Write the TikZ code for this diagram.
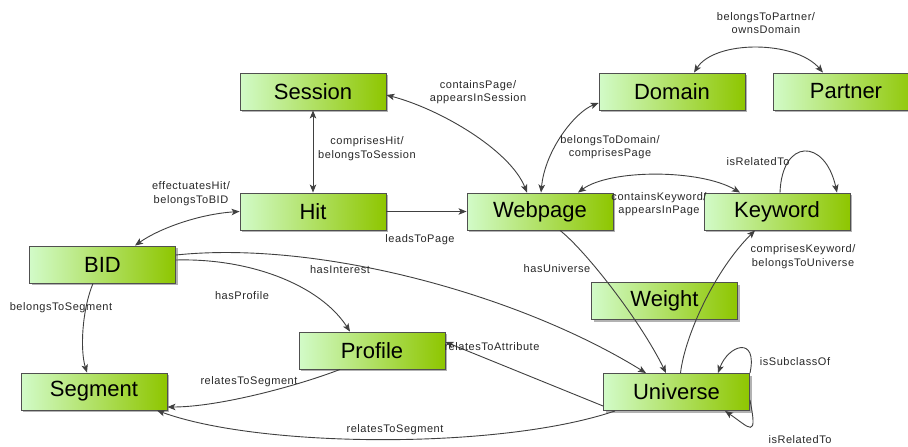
\documentclass[tikz,border=0pt]{standalone}
\usepackage{fontspec}
\setmainfont{Liberation Sans}
\newfontfamily\lblfont[LetterSpace=5]{Liberation Sans}
\usetikzlibrary{arrows.meta,shadows}
\definecolor{boxL}{RGB}{210,251,200}
\definecolor{boxR}{RGB}{142,198,0}
\definecolor{edgeC}{RGB}{64,64,64}
\definecolor{txtC}{RGB}{40,40,40}
\definecolor{bordC}{RGB}{80,80,80}
\tikzset{
  cls/.style={draw=bordC, line width=0.9pt, minimum width=146pt, minimum height=37pt,
    inner sep=0pt, left color=boxL, right color=boxR,
    font=\fontsize{22}{26}\selectfont, text=black,
    drop shadow={shadow xshift=2pt, shadow yshift=-2pt, fill=black, opacity=0.3}},
  lbl/.style={font=\lblfont\fontsize{11}{13.5}\selectfont, text=txtC, align=center, inner sep=0pt},
  rel/.style={draw=edgeC, line width=0.9pt, -{Stealth[length=8pt,width=6.5pt,inset=2pt]}},
  birel/.style={draw=edgeC, line width=0.9pt, {Stealth[length=8pt,width=6.5pt,inset=2pt]}-{Stealth[length=8pt,width=6.5pt,inset=2pt]}}
}
\begin{document}
\begin{tikzpicture}[x=1pt,y=-1pt]
\useasboundingbox[fill=white] (0,0) rectangle (908,447);
% classes
\node[cls] (Session) at (313,91.5) {Session};
\node[cls] (Hit) at (313,211.5) {Hit};
\node[cls] (Webpage) at (540,211.5) {Webpage};
\node[cls] (Domain) at (672,91.5) {Domain};
\node[cls] (Partner) at (846,91.5) {Partner};
\node[cls] (Keyword) at (777,211.5) {Keyword};
\node[cls] (BID) at (102.5,264.5) {BID};
\node[cls] (Segment) at (94,391.5) {Segment};
\node[cls] (Profile) at (372,350.5) {Profile};
\node[cls] (Weight) at (664.5,301) {Weight};
\node[cls] (Universe) at (676.5,392) {Universe};
% relations
\draw[birel] (Session.south) -- (Hit.north);
\draw[birel] ([yshift=-3.5pt]Session.east) .. controls (440,109) and (510,150) .. ([xshift=-13pt]Webpage.north);
\draw[rel] (Hit.east) -- (Webpage.west);
\draw[birel] (Hit.west) .. controls (200,214) and (160,228) .. ([xshift=32.5pt]BID.north);
\draw[birel] ([yshift=-11.5pt]Domain.west) .. controls (575,112) and (545,150) .. ([xshift=1pt]Webpage.north);
\draw[birel] ([xshift=22pt]Domain.north) .. controls (715,40) and (795,40) .. ([xshift=-23pt]Partner.north);
\draw[birel] ([xshift=38pt]Webpage.north) .. controls (610,169) and (700,169) .. ([xshift=-37pt]Keyword.north);
\draw[rel] ([xshift=3pt]Keyword.north) .. controls (782,138) and (825,138) .. ([xshift=60pt]Keyword.north);
\draw[rel] ([xshift=20pt]Webpage.south) .. controls (585,250) and (640,320) .. ([xshift=-10.5pt]Universe.north);
\draw[rel] ([xshift=4pt]Universe.north) .. controls (685,335) and (715,270) .. ([xshift=-22pt]Keyword.south);
\draw[rel] ([yshift=9.5pt]BID.east) .. controls (320,240) and (520,295) .. ([xshift=-30.5pt]Universe.north);
\draw[rel] ([yshift=4.5pt]BID.east) .. controls (250,258) and (320,285) .. ([xshift=-22pt]Profile.north);
\draw[rel] ([xshift=-9.5pt]BID.south) .. controls (82,310) and (80,350) .. ([xshift=-7pt]Segment.north);
\draw[rel] ([yshift=-14pt]Universe.west) -- ([yshift=8.5pt]Profile.east);
\draw[rel] ([xshift=-32pt]Profile.south) .. controls (300,385) and (220,407) .. ([yshift=-15.5pt]Segment.east);
\draw[rel] ([xshift=-61.5pt]Universe.south) .. controls (500,450) and (260,448) .. ([xshift=63pt]Segment.south);
\draw[rel] ([xshift=73.5pt,yshift=0pt]Universe.north) .. controls (758,335) and (728,345) .. ([xshift=41.5pt]Universe.north);
\draw[rel] ([yshift=-8pt]Universe.east) .. controls (758,440) and (750,428) .. ([xshift=48.5pt]Universe.south);
% labels
\node[lbl] (l1) at (478,92) {containsPage/\\appearsInSession};
\node[lbl] (l2) at (367,148.5) {comprisesHit/\\belongsToSession};
\node[lbl] (l3) at (191,193.5) {effectuatesHit/\\belongsToBID};
\node[lbl] (l4) at (420,240) {leadsToPage};
\node[lbl] (l5) at (766,23) {belongsToPartner/\\ownsDomain};
\node[lbl] (l6) at (610,147) {belongsToDomain/\\comprisesPage};
\node[lbl] (l7) at (758,162) {isRelatedTo};
\node[lbl] (l8) at (659,204) {containsKeyword/\\appearsInPage};
\node[lbl] (l9) at (803,256.5) {comprisesKeyword/\\belongsToUniverse};
\node[lbl] (l10) at (557,269) {hasUniverse};
\node[lbl] (l11) at (340,270) {hasInterest};
\node[lbl] (l12) at (242,296) {hasProfile};
\node[lbl] (l13) at (61,308) {belongsToSegment};
\node[lbl] (l14) at (492,347) {relatesToAttribute};
\node[lbl] (l15) at (795,362) {isSubclassOf};
\node[lbl] (l16) at (249,382) {relatesToSegment};
\node[lbl] (l17) at (395,430) {relatesToSegment};
\node[lbl] (l18) at (800,440) {isRelatedTo};
\end{tikzpicture}
\end{document}
